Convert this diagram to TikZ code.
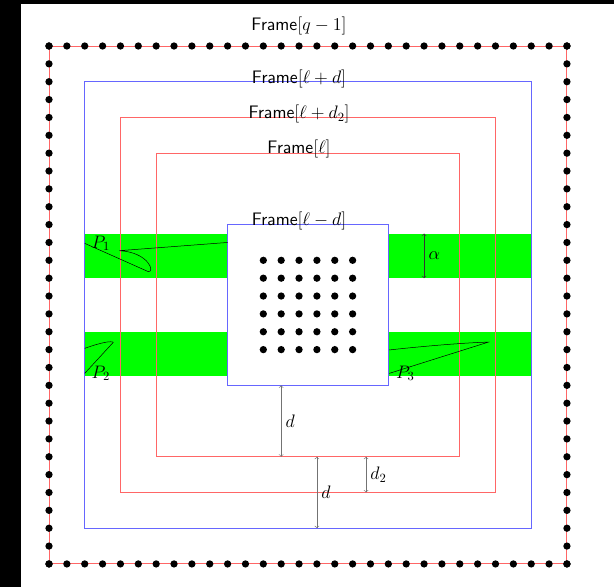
\documentclass[tikz,border=0pt]{standalone}
\usepackage{amsmath}
\usepackage{xcolor}
\usepackage{tikz}
\usetikzlibrary{arrows}

\begin{document}
\begin{tikzpicture}[x=0.5cm, y=0.5cm,
    redframe/.style={draw=red!60, line width=0.75pt},
    blueframe/.style={draw=blue!60, line width=0.75pt},
    band/.style={fill=green},
    walk/.style={draw=black, line width=0.4pt},
    dist/.style={<->, draw=black!55, line width=0.45pt},
    lbl/.style={font=\fontsize{14.4}{16}\selectfont},
    flabel/.style={lbl, anchor=base},
    plabel/.style={lbl, right, xshift=2pt}
]

\useasboundingbox (-2.744,-1.291) rectangle (31.635,31.576);
\fill[black] (-2.744,-1.291) rectangle (31.635,31.576);
\fill[white] (-1.568,-1.291) rectangle (31.635,31.352);

\fill[band] (2,16) rectangle (27,18.5);
\fill[band] (2,10.5) rectangle (27,13);

\draw[redframe] (0,0) rectangle (29,29);
\draw[blueframe] (2,2) rectangle (27,27);
\draw[redframe] (4,4) rectangle (25,25);
\draw[redframe] (6,6) rectangle (23,23);
\draw[blueframe, fill=white] (10,10) rectangle (19,19);

\node[flabel] (fq) at (14,29.85) {$\mathsf{Frame}[q-1]$};
\node[flabel] (fld) at (14,26.92) {$\mathsf{Frame}[\ell+d]$};
\node[flabel] (fldtwo) at (14,24.92) {$\mathsf{Frame}[\ell+d_2]$};
\node[flabel] (fl) at (14,22.97) {$\mathsf{Frame}[\ell]$};
\node[flabel] (flmd) at (14,18.95) {$\mathsf{Frame}[\ell-d]$};

\foreach \i in {0,...,29} {
  \fill (\i,0) circle (2.9pt);
  \fill (\i,29) circle (2.9pt);
  \fill (0,\i) circle (2.9pt);
  \fill (29,\i) circle (2.9pt);
}
\foreach \i in {12,...,17}
  \foreach \j in {12,...,17}
    \fill (\i,\j) circle (2.9pt);

\draw[walk] (2,17.95) node[plabel] (pone) {$P_1$}
  -- (5.55,16.37) .. controls (5.95,16.3) and (5.6,17.45) .. (3.94,17.54) -- (10,18);
\draw[walk] (2,12.07) .. controls (2.9,12.4) and (3.5,12.5) .. (3.6,12.41)
  -- (2,10.67) node[plabel] (ptwo) {$P_2$};
\draw[walk] (19.05,11.98) .. controls (21,12.2) and (23.5,12.4) .. (24.6,12.42)
  -- (19.05,10.67) node[plabel] (pthree) {$P_3$};

\draw[dist, draw=black!80] (21,18.5) -- node[lbl, right] (alpha) {$\alpha$} (21,16);
\draw[dist] (13,10) -- node[lbl, right] (dup) {$d$} (13,6);
\draw[dist] (15,6) -- node[lbl, right] (ddown) {$d$} (15,2);
\draw[dist] (17.75,6) -- node[lbl, right] (dtwo) {$d_2$} (17.75,4);

\end{tikzpicture}
\end{document}
